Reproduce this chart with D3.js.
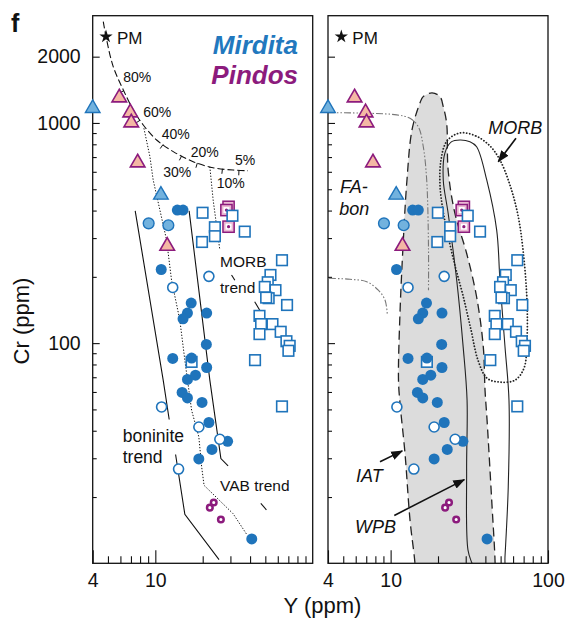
<!DOCTYPE html>
<html>
<head>
<meta charset="utf-8">
<script src="https://cdn.jsdelivr.net/npm/d3@7"></script>
<style>
  body { margin: 0; background: #fff; }
  svg { display: block; }
  text { font-family: "Liberation Sans", Arial, Helvetica, sans-serif; fill: #111; }
</style>
</head>
<body>
<svg id="chart" width="566" height="621"></svg>
<script>
// ---------------- data (Y ppm, Cr ppm) ----------------
const xLabelsLeft = [4, 10];
const xLabelsRight = [4, 10, 100];
const xMinorTicks = [5, 6, 7, 8, 9, 20, 30, 40, 50, 60, 70, 80, 90];
const yLabels = [100, 1000, 2000];
const yMinorTicks = [20, 30, 40, 50, 60, 70, 80, 90, 200, 300, 400, 500, 600, 700, 800, 900];

const primitiveMantle = [[4.86, 2467]];

const mirditaFilled = [
  [13.8, 402], [15.0, 402], [10.9, 216], [16.9, 152], [16.0, 137], [15.0, 129],
  [21.2, 137], [21.1, 98.6], [12.9, 85.2], [17.0, 85.5], [21.2, 77.5], [16.0, 68.4],
  [18.0, 71.5], [14.8, 59.7], [16.0, 56.4], [19.8, 53.8], [21.9, 43.6], [28.8, 35.8],
  [22.9, 32.9], [18.9, 29.8], [41.0, 12.9]
];
const mirditaOpen = [
  [21.9, 201], [12.9, 179], [10.96, 51.3], [18.9, 41.6], [25.7, 36.6], [14.05, 26.8]
];
const mirditaLightCircles = [[9.07, 350], [12.1, 343]];
const mirditaTriangles = [[4.0, 1166], [10.85, 471]];
const mirditaSquares = [
  [17.0, 82.2], [19.96, 391], [23.9, 336], [23.9, 306], [19.8, 288], [30.9, 379], [37.0, 321],
  [63.8, 238], [53.9, 204], [51.8, 189], [49.6, 180], [58.0, 174], [52.5, 160], [50.6, 161],
  [68.7, 149], [45.9, 133], [47.0, 122], [55.5, 122], [62.6, 112.6], [45.9, 109.9],
  [68.1, 102], [71.4, 97.2], [70.1, 92.3], [43.0, 83.7], [63.8, 51.6]
];
const pindosTriangles = [[5.90, 1303], [6.93, 1114], [7.03, 1003], [7.72, 660], [11.9, 276]];
const pindosSquares = [[29.2, 416], [28.3, 402], [29.2, 338]];
const pindosRings = [[23.5, 18.9], [22.2, 17.9], [26.1, 15.8]];

// melting curve from primitive mantle, with melt-fraction tick positions (Y)
const meltCurve = [
  [4.67, 2887], [4.86, 2467], [5.40, 1803], [6.26, 1413], [7.24, 1146], [8.38, 979],
  [10.19, 837], [13.0, 741], [17.4, 667], [23.3, 626], [31.2, 611], [38.8, 607]
];
const meltTicks = [6.3, 8.0, 11.2, 14.7, 18.5, 26.7, 34.0];
const meltLabels = ["80%", "60%", "40%", "20%", "5%", "30%", "10%"];

// trend lines (left panel)
const boniniteLeft = [[[7.45, 399], [11.22, 67.9], [12.25, 45.0]], [[13.45, 31.2], [15.4, 16.7], [25.4, 10.4]]];
const boniniteRight = [[[16.4, 399], [22.2, 67.9], [26.1, 29.9], [29.0, 27.7]], [[46.8, 18.7], [50.8, 17.5]]];
const vabTrend = [
  [8.46, 946], [9.24, 703], [9.69, 551], [11.79, 294], [12.68, 193], [14.32, 127], [15.4, 83.7],
  [17.0, 49.6], [18.9, 37.5], [19.7, 27.4], [20.4, 22.6], [31.2, 16.8], [37.9, 13.6]
];
const morbTrendDotted = [[22.2, 633], [23.3, 447], [25.7, 265]];
const morbTrendSolid = [[[30.5, 204], [32.0, 193]], [[42.8, 154], [46.1, 141]]];

// discrimination fields (right panel)
const iatField = [
  [14.6, 7.5], [14.28, 10], [13.28, 15.7], [12.34, 31.6], [11.47, 53.4], [11.22, 67.9],
  [11.47, 137], [11.98, 273], [12.70, 551], [13.67, 929], [15.36, 1233], [16.1, 1317],
  [18.32, 1369], [20.59, 1317], [21.6, 1186], [22.7, 997], [23.2, 611], [25.6, 389],
  [30.4, 256], [35.2, 162], [38.8, 96.2], [39.8, 61.1], [41.0, 44.7], [44.0, 18.7],
  [46.0, 10.6], [46.5, 7.5]
];
const wpbField = [
  [27.6, 837], [31.9, 822], [35.2, 780], [40.8, 551], [47.2, 326], [49.5, 193], [53.3, 96.2],
  [56.5, 55.1], [55.9, 22.2], [53.3, 10.7], [52.5, 8.8], [42.8, 7.5], [35.4, 8.8], [32.9, 10],
  [31.0, 11.5], [30.4, 26.5], [30.6, 55.1], [28.9, 96.2], [26.3, 193], [23.2, 389],
  [21.6, 551], [22.1, 728], [24.3, 820]
];
const morbField = [
  [27.6, 901], [34.8, 873], [42.8, 786], [49.5, 679], [57.3, 523], [64.4, 382], [69.4, 265],
  [73.5, 157], [73.5, 103], [70.4, 77], [61.7, 67.9], [49.5, 66.5], [41.0, 69.3], [35.9, 83.7],
  [32.4, 115], [28.8, 165], [25.6, 226], [23.1, 310], [21.5, 402], [20.59, 523], [20.89, 679],
  [22.8, 828]
];
const faBonUpper = [
  [4.0, 1114], [7.05, 1107], [10.93, 1088], [13.28, 1050], [14.99, 962], [16.1, 786],
  [16.95, 551], [17.4, 273], [17.4, 174]
];
const faBonLower = [[4.06, 197], [5.52, 195], [7.05, 190], [8.35, 174], [9.21, 157], [9.52, 136]];
const fieldArrows = [
  { from: [62.6, 852], to: [48.3, 667] },   // MORB
  { from: [8.56, 28.9], to: [11.86, 32.4] }, // IAT
  { from: [10.55, 16.5], to: [29.4, 24.0] }  // WPB
];

// ---------------- colours ----------------
const blue = "#1f74bb", lightBlue = "#72b2de", purple = "#8c1b7d";
const pinkTri = "#f4b8a4", pinkSq = "#ebb7d2", fieldGray = "#dcdcdc";

// ---------------- scales & layout ----------------
const svg = d3.select("#chart");
const y = d3.scaleLog().domain([10, 3070]).range([563.3, 15.7]);
const xL = d3.scaleLog().domain([4, 100]).range([92.7, 312.7]);
const xR = d3.scaleLog().domain([4, 100]).range([328, 548]);

const defs = svg.append("defs");
[["clipL", xL], ["clipR", xR]].forEach(([id, x]) => {
  defs.append("clipPath").attr("id", id).append("rect")
    .attr("x", x.range()[0]).attr("y", y.range()[1])
    .attr("width", x.range()[1] - x.range()[0]).attr("height", y.range()[0] - y.range()[1]);
});
defs.append("marker").attr("id", "arrowHead").attr("viewBox", "0 -5 12 10")
  .attr("refX", 11).attr("refY", 0).attr("markerUnits", "userSpaceOnUse")
  .attr("markerWidth", 12).attr("markerHeight", 10).attr("orient", "auto")
  .append("path").attr("d", "M0,-4.5L12,0L0,4.5Z").attr("fill", "#111");

function lineGen(x, curve) {
  return d3.line().x(d => x(d[0])).y(d => y(d[1])).curve(curve || d3.curveLinear);
}

function drawAxes(g, x, showYLabels, xLabels) {
  const x0 = x.range()[0];
  const style = sel => {
    sel.select(".domain").remove();
    sel.selectAll("line").attr("stroke", "#111").attr("stroke-width", 1.1);
    sel.selectAll("text").style("font-size", "19.5px").attr("fill", "#111")
      .style("font-family", '"Liberation Sans", Arial, sans-serif');
  };
  g.append("g").attr("transform", `translate(${x0},0)`)
    .call(d3.axisLeft(y).tickValues(yLabels).tickSize(-7).tickPadding(12)
      .tickFormat(showYLabels ? d3.format("d") : () => ""))
    .call(style);
  g.append("g").attr("transform", `translate(${x0},0)`)
    .call(d3.axisLeft(y).tickValues(yMinorTicks).tickSize(-4).tickFormat(() => ""))
    .call(style);
  g.append("g").attr("transform", `translate(0,${y.range()[0]})`)
    .call(d3.axisBottom(x).tickValues(xLabels).tickSize(-13).tickPadding(10).tickFormat(d3.format("d")))
    .call(style);
  g.append("g").attr("transform", `translate(0,${y.range()[0]})`)
    .call(d3.axisBottom(x).tickValues(xMinorTicks).tickSize(-7).tickFormat(() => ""))
    .call(style);
}

function drawFrame(g, x) {
  g.append("rect").attr("x", x.range()[0]).attr("y", y.range()[1])
    .attr("width", x.range()[1] - x.range()[0]).attr("height", y.range()[0] - y.range()[1])
    .attr("fill", "none").attr("stroke", "#111").attr("stroke-width", 1.3);
}

function drawPoints(g, x) {
  const at = d => `translate(${x(d[0])},${y(d[1])})`;
  // Pindos squares
  const ps = g.append("g").selectAll("g").data(pindosSquares).join("g").attr("transform", at);
  ps.append("rect").attr("x", -5.6).attr("y", -5.6).attr("width", 11.2).attr("height", 11.2)
    .attr("fill", pinkSq).attr("stroke", purple).attr("stroke-width", 1.5);
  ps.append("rect").attr("x", -3).attr("y", -3).attr("width", 6).attr("height", 6).attr("fill", "#fff");
  ps.append("circle").attr("r", 1.6).attr("fill", purple);
  // Mirdita open squares
  g.append("g").selectAll("rect").data(mirditaSquares).join("rect")
    .attr("x", d => x(d[0]) - 5.3).attr("y", d => y(d[1]) - 5.3)
    .attr("width", 10.6).attr("height", 10.6)
    .attr("fill", "#fff").attr("stroke", blue).attr("stroke-width", 1.6);
  // Mirdita filled circles
  g.append("g").selectAll("circle").data(mirditaFilled).join("circle")
    .attr("cx", d => x(d[0])).attr("cy", d => y(d[1])).attr("r", 5.5).attr("fill", blue);
  // light-blue circles
  g.append("g").selectAll("circle").data(mirditaLightCircles).join("circle")
    .attr("cx", d => x(d[0])).attr("cy", d => y(d[1])).attr("r", 5.4)
    .attr("fill", lightBlue).attr("stroke", blue).attr("stroke-width", 1.4);
  // open circles
  g.append("g").selectAll("circle").data(mirditaOpen).join("circle")
    .attr("cx", d => x(d[0])).attr("cy", d => y(d[1])).attr("r", 5)
    .attr("fill", "#fff").attr("stroke", blue).attr("stroke-width", 1.6);
  // triangles
  const tri = d3.symbol().type(d3.symbolTriangle).size(92)();
  g.append("g").selectAll("path").data(mirditaTriangles).join("path")
    .attr("d", tri).attr("transform", at)
    .attr("fill", lightBlue).attr("stroke", blue).attr("stroke-width", 1.4);
  g.append("g").selectAll("path").data(pindosTriangles).join("path")
    .attr("d", tri).attr("transform", at)
    .attr("fill", pinkTri).attr("stroke", purple).attr("stroke-width", 1.6);
  // Pindos rings
  g.append("g").selectAll("circle").data(pindosRings).join("circle")
    .attr("cx", d => x(d[0])).attr("cy", d => y(d[1])).attr("r", 2.8)
    .attr("fill", "#fff").attr("stroke", purple).attr("stroke-width", 2.5);
  // primitive mantle
  g.append("g").selectAll("path").data(primitiveMantle).join("path")
    .attr("d", d3.symbol().type(d3.symbolStar).size(55)()).attr("transform", at).attr("fill", "#111");
  g.append("g").selectAll("text").data(primitiveMantle).join("text")
    .attr("x", d => x(d[0]) + 11).attr("y", d => y(d[1]) + 7)
    .style("font-size", "17px").text("PM");
}

// ---------------- left panel ----------------
const gL = svg.append("g");
const plotL = gL.append("g").attr("clip-path", "url(#clipL)");

// melting curve
plotL.append("path").attr("d", lineGen(xL, d3.curveCatmullRom)(meltCurve))
  .attr("fill", "none").attr("stroke", "#111").attr("stroke-width", 1.1).attr("stroke-dasharray", "7,3");
// melt-fraction ticks on the curve
const curvePx = meltCurve.map(d => [xL(d[0]), y(d[1])]);
meltTicks.forEach(v => {
  const px = xL(v);
  for (let i = 0; i < curvePx.length - 1; i++) {
    const a = curvePx[i], b = curvePx[i + 1];
    if (px >= a[0] && px <= b[0]) {
      const t = (px - a[0]) / (b[0] - a[0]);
      const py = a[1] + t * (b[1] - a[1]);
      const dx = b[0] - a[0], dy = b[1] - a[1], len = Math.hypot(dx, dy);
      const nx = -dy / len, ny = dx / len;
      plotL.append("line").attr("x1", px).attr("y1", py)
        .attr("x2", px + nx * 5).attr("y2", py + ny * 5)
        .attr("stroke", "#111").attr("stroke-width", 1);
      break;
    }
  }
});
// melt-fraction labels
const meltLabelPos = [[123.3, 81.7], [143.3, 116.7], [161.7, 139.3], [190.7, 156.7], [235, 165], [163.3, 176.7], [216.7, 188.3]];
gL.append("g").selectAll("text").data(meltLabels).join("text")
  .attr("x", (d, i) => meltLabelPos[i][0]).attr("y", (d, i) => meltLabelPos[i][1])
  .style("font-size", "14px").text(d => d);

// trend lines
boniniteLeft.concat(boniniteRight).forEach(seg => {
  plotL.append("path").attr("d", lineGen(xL)(seg)).attr("fill", "none")
    .attr("stroke", "#111").attr("stroke-width", 1.1);
});
[vabTrend, morbTrendDotted].forEach(seg => {
  plotL.append("path").attr("d", lineGen(xL)(seg)).attr("fill", "none")
    .attr("stroke", "#111").attr("stroke-width", 1).attr("stroke-dasharray", "1.3,1.7");
});
morbTrendSolid.forEach(seg => {
  plotL.append("path").attr("d", lineGen(xL)(seg)).attr("fill", "none")
    .attr("stroke", "#111").attr("stroke-width", 1.1);
});

// trend labels
[["MORB", 220, 266.7, 15.5], ["trend", 220, 293.3, 15.5], ["boninite", 122.7, 441.7, 17.5],
 ["trend", 122.7, 463.3, 17.5], ["VAB trend", 220, 490.7, 15.5]].forEach(([t, px, py, fs]) => {
  gL.append("text").attr("x", px).attr("y", py).style("font-size", fs + "px").text(t);
});
// legend
gL.append("text").attr("x", 298).attr("y", 54).attr("text-anchor", "end")
  .style("font-size", "26px").style("font-weight", "bold").style("font-style", "italic")
  .style("fill", "#2278be").text("Mirdita");
gL.append("text").attr("x", 298).attr("y", 83.5).attr("text-anchor", "end")
  .style("font-size", "26px").style("font-weight", "bold").style("font-style", "italic")
  .style("fill", purple).text("Pindos");

drawAxes(gL, xL, true, xLabelsLeft);
drawFrame(gL, xL);
drawPoints(gL, xL);

// ---------------- right panel ----------------
const gR = svg.append("g");
const plotR = gR.append("g").attr("clip-path", "url(#clipR)");

plotR.append("path").attr("d", lineGen(xR, d3.curveCatmullRom)(iatField))
  .attr("fill", fieldGray).attr("stroke", "none");
plotR.append("path").attr("d", lineGen(xR, d3.curveCatmullRom)(iatField))
  .attr("fill", "none").attr("stroke", "#222").attr("stroke-width", 1.3).attr("stroke-dasharray", "9,5");
[faBonUpper, faBonLower].forEach(seg => {
  plotR.append("path").attr("d", lineGen(xR, d3.curveCatmullRom)(seg)).attr("fill", "none")
    .attr("stroke", "#777").attr("stroke-width", 1.1).attr("stroke-dasharray", "7,2,1.5,2,1.5,2");
});
plotR.append("path").attr("d", lineGen(xR, d3.curveCatmullRomClosed)(wpbField))
  .attr("fill", "none").attr("stroke", "#222").attr("stroke-width", 1.1);
plotR.append("path").attr("d", lineGen(xR, d3.curveCatmullRomClosed)(morbField))
  .attr("fill", "none").attr("stroke", "#222").attr("stroke-width", 1.8)
  .attr("stroke-dasharray", "0.1,3").attr("stroke-linecap", "round");

fieldArrows.forEach(a => {
  gR.append("line").attr("x1", xR(a.from[0])).attr("y1", y(a.from[1]))
    .attr("x2", xR(a.to[0])).attr("y2", y(a.to[1]))
    .attr("stroke", "#111").attr("stroke-width", 1.6).attr("marker-end", "url(#arrowHead)");
});
[["MORB", 488.3, 134], ["FA-", 340, 193], ["bon", 339.3, 214.5], ["IAT", 356, 481.5], ["WPB", 355, 533.3]]
  .forEach(([t, px, py]) => {
    gR.append("text").attr("x", px).attr("y", py).style("font-size", "18px")
      .style("font-style", "italic").text(t);
  });

drawAxes(gR, xR, false, xLabelsRight);
drawFrame(gR, xR);
drawPoints(gR, xR);

// ---------------- titles ----------------
svg.append("text").attr("x", 11).attr("y", 32).style("font-size", "25px").style("font-weight", "bold").text("f");
svg.append("text").attr("x", 322.5).attr("y", 613).attr("text-anchor", "middle")
  .style("font-size", "22px").text("Y (ppm)");
svg.append("text").attr("transform", "translate(29,321) rotate(-90)").attr("text-anchor", "middle")
  .style("font-size", "22px").text("Cr (ppm)");
</script>
</body>
</html>
